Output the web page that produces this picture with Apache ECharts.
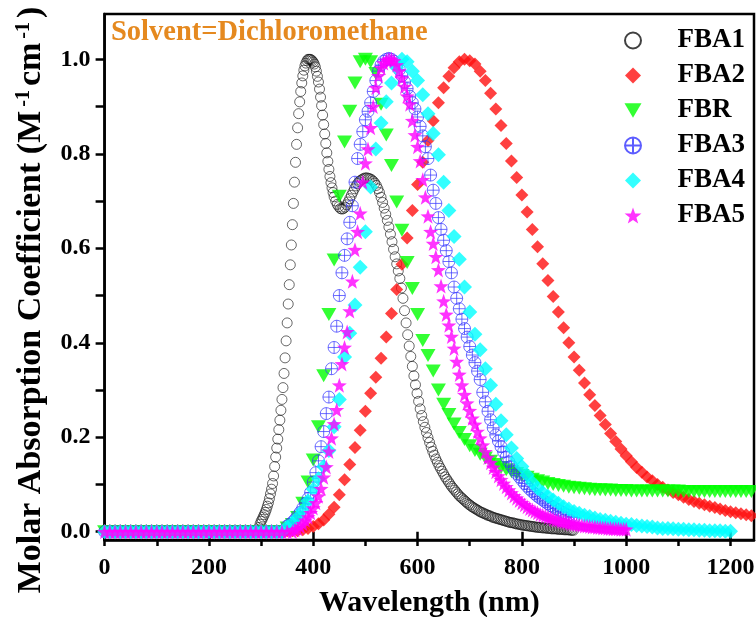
<!DOCTYPE html>
<html>
<head>
<meta charset="utf-8">
<script src="https://cdn.jsdelivr.net/npm/echarts@6/dist/echarts.min.js"></script>
<style>
html,body{margin:0;padding:0;background:#fff;}
#chart{width:756px;height:617px;}
</style>
</head>
<body>
<div id="chart"></div>
<script>
// ---------- Data ----------
const seriesNames = ['FBA1', 'FBA2', 'FBR', 'FBA3', 'FBA4', 'FBA5'];
const xTickLabels = [0, 200, 400, 600, 800, 1000, 1200];
const xTickMarks = [0, 100, 200, 300, 400, 500, 600, 700, 800, 900, 1000, 1100, 1200];
const yTickLabels = [0, 0.2, 0.4, 0.6, 0.8, 1.0];
const yTickMarks = [0, 0.1, 0.2, 0.3, 0.4, 0.5, 0.6, 0.7, 0.8, 0.9, 1.0];

// FBA1: 0..290 nm every 10 nm
const fba1BaseStart = 0, fba1BaseStep = 10;
const fba1BaseValues = [0.003,0.003,0.003,0.003,0.003,0.003,0.003,0.003,0.003,0.003,
  0.003,0.003,0.003,0.003,0.003,0.003,0.003,0.003,0.003,0.003,
  0.003,0.003,0.003,0.003,0.003,0.003,0.003,0.003,0.003,0.003];
// FBA1: 294..440 nm every 2 nm
const fba1PeakStart = 294, fba1PeakStep = 2;
const fba1PeakValues = [0.004,0.009,0.016,0.022,0.026,0.031,0.036,0.041,0.047,0.054,
  0.061,0.07,0.08,0.09,0.102,0.118,0.138,0.158,0.177,0.196,
  0.216,0.236,0.257,0.28,0.305,0.335,0.368,0.404,0.442,0.482,
  0.523,0.565,0.607,0.65,0.695,0.74,0.782,0.82,0.855,0.885,
  0.91,0.932,0.95,0.965,0.977,0.986,0.992,0.997,1.0,1.0,
  1.0,0.999,0.997,0.994,0.99,0.984,0.975,0.964,0.952,0.937,
  0.92,0.902,0.882,0.862,0.842,0.822,0.802,0.784,0.767,0.752,
  0.739,0.728,0.718,0.709];
// FBA1: 443..899 nm every 3 nm
const fba1TailStart = 443, fba1TailStep = 3;
const fba1TailValues = [0.70,0.693,0.688,0.684,0.683,0.684,0.687,0.692,0.698,0.705,
  0.712,0.719,0.726,0.732,0.737,0.741,0.744,0.746,0.748,0.749,
  0.749,0.748,0.747,0.745,0.742,0.738,0.733,0.726,0.718,0.708,
  0.697,0.685,0.672,0.659,0.645,0.63,0.614,0.598,0.582,0.567,
  0.552,0.536,0.516,0.494,0.468,0.442,0.417,0.393,0.371,0.35,
  0.33,0.311,0.293,0.276,0.26,0.246,0.233,0.221,0.21,0.199,
  0.189,0.179,0.17,0.162,0.154,0.147,0.14,0.134,0.128,0.122,
  0.116,0.111,0.106,0.101,0.096,0.092,0.088,0.084,0.08,0.076,
  0.073,0.07,0.067,0.064,0.061,0.058,0.056,0.053,0.051,0.049,
  0.047,0.045,0.043,0.041,0.04,0.038,0.037,0.035,0.034,0.033,
  0.031,0.03,0.029,0.028,0.027,0.026,0.025,0.024,0.023,0.022,
  0.021,0.02,0.019,0.019,0.018,0.017,0.016,0.016,0.015,0.014,
  0.014,0.013,0.013,0.012,0.012,0.011,0.011,0.01,0.01,0.009,
  0.009,0.009,0.008,0.008,0.008,0.007,0.007,0.007,0.006,0.006,
  0.006,0.006,0.005,0.005,0.005,0.005,0.004,0.004,0.004,0.004,
  0.003,0.003,0.003];

// FBA2: 0..1240 nm every 10 nm
const fba2Start = 0, fba2Step = 10;
const fba2Values = [0.002,0.002,0.002,0.002,0.002,0.002,0.002,0.002,0.002,0.002,
  0.002,0.002,0.002,0.002,0.002,0.002,0.002,0.002,0.002,0.002,
  0.002,0.002,0.002,0.002,0.002,0.002,0.002,0.002,0.002,0.002,
  0.002,0.002,0.002,0.002,0.002,0.002,0.002,0.002,
  0.004,0.007,0.011,0.017,0.025,0.037,0.052,0.078,0.11,0.142,
  0.178,0.215,0.255,0.293,0.327,0.367,0.412,0.462,0.513,0.566,
  0.622,0.68,0.735,0.782,0.828,0.87,0.908,0.94,0.964,0.982,
  0.995,1.0,0.997,0.99,0.975,0.955,0.928,0.895,0.86,0.822,
  0.785,0.75,0.713,0.677,0.64,0.603,0.567,0.532,0.498,0.465,
  0.432,0.4,0.37,0.342,0.315,0.29,0.267,0.246,0.227,0.208,
  0.191,0.175,0.161,0.148,0.136,0.126,0.116,0.108,0.1,0.094,
  0.088,0.083,0.078,0.073,0.068,0.064,0.06,0.057,0.054,0.051,
  0.048,0.045,0.042,0.04,0.038,0.036,0.034];

// FBR: 0..1240 nm every 10 nm
const fbrStart = 0, fbrStep = 10;
const fbrValues = [0,0,0,0,0,0,0,0,0,0,
  0,0,0,0,0,0,0,0,0,0,
  0,0,0,0,0,0,0,0,0,0,
  0,0,0,0,0,
  0.008,0.015,0.03,0.06,0.105,0.152,0.222,0.33,0.46,0.575,
  0.71,0.825,0.89,0.95,0.995,1.0,0.995,0.97,0.905,0.84,
  0.775,0.698,0.638,0.57,0.515,0.46,0.405,0.373,0.34,0.3,
  0.27,0.248,0.228,0.21,0.195,0.182,0.172,0.164,0.156,0.149,
  0.142,0.136,0.131,0.127,0.123,0.119,0.115,0.111,0.108,0.105,
  0.102,0.1,0.098,0.096,0.094,0.093,0.092,0.091,0.09,0.089,
  0.089,0.088,0.088,0.087,0.087,0.087,
  0.086,0.086,0.086,0.086,0.086,0.086,0.086,0.086,0.086,0.086,
  0.085,0.085,0.085,0.085,0.085,0.085,0.085,0.085,0.085,0.085,
  0.085,0.085,0.085,0.085];

// FBA3: 0..340 nm every 10 nm, then 350..900 nm every 5 nm
const fba3BaseStart = 0, fba3BaseStep = 10;
const fba3BaseValues = [0,0,0,0,0,0,0,0,0,0,
  0,0,0,0,0,0,0,0,0,0,
  0,0,0,0,0,0,0,0,0,0,
  0,0,0,0,0];
const fba3BandStart = 350, fba3BandStep = 5;
const fba3BandValues = [0.012,0.016,0.02,0.026,0.034,0.041,0.05,0.06,0.07,0.083,
  0.105,0.125,0.15,0.18,0.212,0.25,0.285,0.345,0.39,0.435,
  0.5,0.548,0.585,0.62,0.655,0.69,0.74,0.79,0.82,0.847,
  0.872,0.89,0.908,0.932,0.955,0.975,0.988,0.996,1.0,1.002,
  1.0,0.996,0.988,0.978,0.965,0.952,0.938,0.922,0.908,0.895,
  0.878,0.858,0.838,0.815,0.79,0.755,0.723,0.695,0.665,0.64,
  0.617,0.595,0.572,0.548,0.518,0.494,0.472,0.45,0.43,0.412,
  0.392,0.374,0.358,0.34,0.322,0.295,0.275,0.255,0.237,0.22,
  0.205,0.192,0.18,0.169,0.158,0.148,0.139,0.131,0.123,0.116,
  0.109,0.102,0.096,0.09,0.085,0.08,0.075,0.071,0.067,0.063,
  0.059,0.055,0.052,0.049,0.046,0.043,0.04,0.037,0.035,0.032,
  0.03];

// FBA4: 0..1200 nm every 10 nm
const fba4Start = 0, fba4Step = 10;
const fba4Values = [0,0,0,0,0,0,0,0,0,0,
  0,0,0,0,0,0,0,0,0,0,
  0,0,0,0,0,0,0,0,0,0,
  0,0,0,0,0,
  0.01,0.018,0.03,0.045,0.065,0.09,0.112,0.138,0.172,0.222,
  0.28,0.37,0.42,0.48,0.56,0.635,0.73,0.81,0.865,0.91,
  0.95,0.982,1.0,0.995,0.975,0.955,0.925,0.885,0.843,0.798,
  0.74,0.68,0.625,0.577,0.518,0.465,0.418,0.385,0.345,0.31,
  0.27,0.235,0.205,0.177,0.155,0.138,0.12,0.104,0.092,0.083,
  0.075,0.067,0.06,0.053,0.048,0.043,0.039,0.035,0.032,0.029,
  0.026,0.024,0.022,0.02,0.018,0.016,0.015,0.013,0.012,0.011,
  0.01,0.008,0.007,0.007,0.006,0.005,0.005,0.004,0.004,0.003,
  0.003,0.002,0.002,0.002,0.001,0.001];

// FBA5: 0..360 nm every 10 nm, then 365..1000 nm every 5 nm
const fba5BaseStart = 0, fba5BaseStep = 10;
const fba5BaseValues = [0,0,0,0,0,0,0,0,0,0,
  0,0,0,0,0,0,0,0,0,0,
  0,0,0,0,0,0,0,0,0,0,
  0,0,0,0,0,0,0];
const fba5BandStart = 365, fba5BandStep = 5;
const fba5BandValues = [0.004,0.006,0.011,0.017,0.024,0.031,0.04,0.05,0.061,0.075,
  0.091,0.115,0.137,0.17,0.198,0.228,0.258,0.31,0.355,0.39,
  0.423,0.467,0.53,0.597,0.635,0.674,0.74,0.78,0.81,0.855,
  0.9,0.94,0.965,0.982,0.992,0.998,1.0,1.0,0.997,0.988,
  0.975,0.96,0.942,0.922,0.905,0.87,0.84,0.815,0.785,0.745,
  0.708,0.668,0.635,0.61,0.582,0.554,0.52,0.488,0.46,0.437,
  0.413,0.388,0.36,0.333,0.31,0.29,0.272,0.256,0.24,0.227,
  0.212,0.198,0.183,0.169,0.157,0.146,0.136,0.127,0.118,0.11,
  0.102,0.095,0.088,0.082,0.076,0.071,0.066,0.061,0.057,0.053,
  0.049,0.046,0.043,0.04,0.037,0.035,0.033,0.031,0.029,0.027,
  0.025,0.024,0.022,0.021,0.02,0.018,0.017,0.016,0.015,0.014,
  0.013,0.012,0.012,0.011,0.01,0.01,0.009,0.009,0.008,0.008,
  0.007,0.007,0.006,0.006,0.006,0.005,0.005,0.005];

// ---------- Build ----------
function toPairs(start, step, values) {
  return values.map(function (v, i) { return [start + i * step, v]; });
}
const fba1Data = toPairs(fba1BaseStart, fba1BaseStep, fba1BaseValues)
  .concat(toPairs(fba1PeakStart, fba1PeakStep, fba1PeakValues))
  .concat(toPairs(fba1TailStart, fba1TailStep, fba1TailValues));
const fba2Data = toPairs(fba2Start, fba2Step, fba2Values);
const fbrData = toPairs(fbrStart, fbrStep, fbrValues);
const fba3Data = toPairs(fba3BaseStart, fba3BaseStep, fba3BaseValues)
  .concat(toPairs(fba3BandStart, fba3BandStep, fba3BandValues));
const fba4Data = toPairs(fba4Start, fba4Step, fba4Values);
const fba5Data = toPairs(fba5BaseStart, fba5BaseStep, fba5BaseValues)
  .concat(toPairs(fba5BandStart, fba5BandStep, fba5BandValues));

const SERIF = '"Liberation Serif", "Times New Roman", serif';
const circlePath = 'path://M-10,0A10,10 0 1,1 10,0A10,10 0 1,1 -10,0Z';
const circlePlusPath = 'path://M-10,0A10,10 0 1,1 10,0A10,10 0 1,1 -10,0ZM-10,0L10,0M0,-10L0,10';
const starPath = 'path://M0,-10L2.35,-3.24L9.51,-3.09L3.8,1.24L5.88,8.09L0,4L-5.88,8.09L-3.8,1.24L-9.51,-3.09L-2.35,-3.24Z';
const diamondPath = 'path://M0,-10L10,0L0,10L-10,0Z';
const triangleDownPath = 'path://M-10,-8.5L10,-8.5L0,8.5Z';

const chart = echarts.init(document.getElementById('chart'), null, { renderer: 'canvas' });

chart.setOption({
  animation: false,
  backgroundColor: '#fff',
  grid: {
    left: 104.6, right: 2, top: 14, bottom: 77,
    outerBoundsMode: 'none', containLabel: false,
    show: true, borderColor: '#000', borderWidth: 2.5, backgroundColor: 'transparent'
  },
  xAxis: [{
    type: 'value', min: 0, max: 1245, position: 'bottom',
    name: 'Wavelength (nm)', nameLocation: 'middle', nameGap: 48,
    nameTextStyle: { fontSize: 30, fontWeight: 'bold', fontFamily: SERIF, color: '#000' },
    axisLine: { onZero: false, lineStyle: { color: '#000', width: 2.5 } },
    axisTick: { show: true, inside: false, length: 6, customValues: xTickMarks, lineStyle: { color: '#000', width: 2.5 } },
    axisLabel: {
      customValues: xTickLabels, fontSize: 24, fontWeight: 'bold', fontFamily: SERIF, color: '#000', margin: 16,
      formatter: function (v) { return String(v); }
    },
    splitLine: { show: false }
  }, {
    type: 'value', min: 0, max: 1245, position: 'bottom',
    axisLine: { show: false },
    axisTick: { show: true, inside: false, length: 9, customValues: xTickLabels, lineStyle: { color: '#000', width: 2.5 } },
    axisLabel: { show: false },
    splitLine: { show: false }
  }],
  yAxis: {
    type: 'value', min: -0.0176, max: 1.096,
    axisLine: { onZero: false, lineStyle: { color: '#000', width: 2.5 } },
    axisTick: { show: true, inside: false, length: 9, customValues: yTickMarks, lineStyle: { color: '#000', width: 2.5 } },
    axisLabel: {
      customValues: yTickLabels, fontSize: 24, fontWeight: 'bold', fontFamily: SERIF, color: '#000', margin: 14,
      formatter: function (v) { return v.toFixed(1); }
    },
    splitLine: { show: false }
  },
  legend: {
    orient: 'vertical', left: 624, top: 27, padding: 0,
    itemWidth: 17, itemHeight: 16, itemGap: 8,
    symbolKeepAspect: true,
    textStyle: { fontSize: 27, fontWeight: 'bold', fontFamily: SERIF, color: '#000', lineHeight: 27, padding: [0, 0, 0, 31] },
    data: seriesNames
  },
  graphic: [{
    type: 'text', left: 111, top: 18,
    style: { text: 'Solvent=Dichloromethane', fill: '#E5891F', fontSize: 28.5, fontWeight: 'bold', fontFamily: SERIF }
  }, {
    type: 'text', x: 31, y: 300, rotation: Math.PI / 2,
    style: {
      text: '{a|Molar Absorption Coefficient (M}{b|-1}{a|cm}{b|-1}{a|)}',
      align: 'center', verticalAlign: 'middle',
      rich: {
        a: { fontSize: 34, fontWeight: 'bold', fontFamily: SERIF, fill: '#000' },
        b: { fontSize: 20, fontWeight: 'bold', fontFamily: SERIF, fill: '#000', verticalAlign: 'top', padding: [0, 4, 0, 4] }
      }
    }
  }],
  series: [{
    name: 'FBA1', type: 'scatter', data: fba1Data,
    symbol: circlePath, symbolSize: 10,
    itemStyle: { color: 'rgba(0,0,0,0)', borderColor: '#111', borderWidth: 0.8 }
  }, {
    name: 'FBA2', type: 'scatter', data: fba2Data,
    symbol: diamondPath, symbolSize: 13,
    itemStyle: { color: '#ff1010' }
  }, {
    name: 'FBR', type: 'scatter', data: fbrData,
    symbol: triangleDownPath, symbolSize: [15, 13],
    itemStyle: { color: '#00ff00' }
  }, {
    name: 'FBA3', type: 'scatter', data: fba3Data,
    symbol: circlePlusPath, symbolSize: 12,
    itemStyle: { color: 'rgba(0,0,0,0)', borderColor: '#3535ff', borderWidth: 0.9 }
  }, {
    name: 'FBA4', type: 'scatter', data: fba4Data,
    symbol: diamondPath, symbolSize: 15,
    itemStyle: { color: '#00ffff' }
  }, {
    name: 'FBA5', type: 'scatter', data: fba5Data,
    symbol: starPath, symbolSize: 15,
    itemStyle: { color: '#ff00ff' }
  }]
});
</script>
</body>
</html>
